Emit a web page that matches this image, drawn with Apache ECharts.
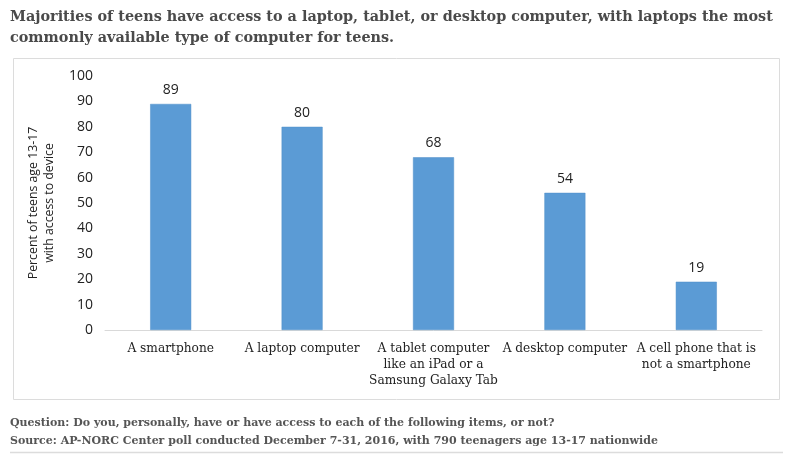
<!DOCTYPE html>
<html>
<head>
<meta charset="utf-8">
<script src="https://cdn.jsdelivr.net/npm/echarts@6/dist/echarts.min.js"></script>
<style>
html,body{margin:0;padding:0;background:#fff;}
#main{width:800px;height:465px;}
</style>
</head>
<body>
<div id="main"></div>
<script>
var categories = ["A smartphone", "A laptop computer", "A tablet computer\nlike an iPad or a\nSamsung Galaxy Tab", "A desktop computer", "A cell phone that is\nnot a smartphone"];
var values = [89, 80, 68, 54, 19];
var yTicks = [0, 10, 20, 30, 40, 50, 60, 70, 80, 90, 100];
var titleText = "Majorities of teens have access to a laptop, tablet, or desktop computer, with laptops the most\ncommonly available type of computer for teens.";
var yName = "Percent of teens age 13-17\nwith access to device";
var footerText = "Question: Do you, personally, have or have access to each of the following items, or not?\nSource: AP-NORC Center poll conducted December 7-31, 2016, with 790 teenagers age 13-17 nationwide";

var chart = echarts.init(document.getElementById('main'), null, {renderer: 'canvas'});
var serif = '"DejaVu Serif", "Liberation Serif", serif';
var sans = '"Open Sans", "Liberation Sans", sans-serif';
chart.setOption({
  backgroundColor: '#fff',
  animation: false,
  title: {
    text: titleText,
    left: 5, top: 2,
    textStyle: {fontFamily: serif, fontWeight: 'bold', fontSize: 14.4, color: '#4a4a4a', lineHeight: 21}
  },
  graphic: [
    {type: 'rect', shape: {x: 13.5, y: 58.5, width: 766, height: 341}, style: {fill: 'none', stroke: '#dcdcdc', lineWidth: 1}, z: -1},
    {type: 'text', left: 10, top: 414, style: {text: footerText, font: 'bold 11px ' + serif, fill: '#555', lineHeight: 18}},
    {type: 'line', shape: {x1: 10, y1: 452.5, x2: 783, y2: 452.5}, style: {stroke: '#dcdcdc', lineWidth: 1.5}}
  ],
  grid: {left: 105, right: 38, top: 76, bottom: 135, containLabel: false},
  xAxis: {
    type: 'category',
    data: categories,
    axisLine: {lineStyle: {color: '#d9d9d9', width: 1}},
    axisTick: {show: false},
    axisLabel: {interval: 0, fontFamily: serif, fontSize: 12.2, color: '#222', lineHeight: 16, margin: 11}
  },
  yAxis: {
    type: 'value',
    min: 0, max: 100, interval: 10,
    name: yName,
    nameLocation: 'middle',
    nameGap: 48,
    nameRotate: 90,
    nameTextStyle: {fontFamily: sans, fontSize: 12.3, color: '#222', lineHeight: 16, padding: [0, 0, 0, 0]},
    splitLine: {show: false},
    axisLine: {show: false},
    axisTick: {show: false},
    axisLabel: {fontFamily: sans, fontSize: 14, color: '#222', margin: 12,
      formatter: function (v) { return yTicks.indexOf(v) >= 0 ? String(v) : ''; }}
  },
  series: [{
    type: 'bar',
    data: values,
    barWidth: 41,
    itemStyle: {color: '#5b9bd5', borderColor: '#4f8ec8', borderWidth: 0.5},
    label: {show: true, position: 'top', distance: 7, fontFamily: sans, fontSize: 14, color: '#222'}
  }]
});
</script>
</body>
</html>
